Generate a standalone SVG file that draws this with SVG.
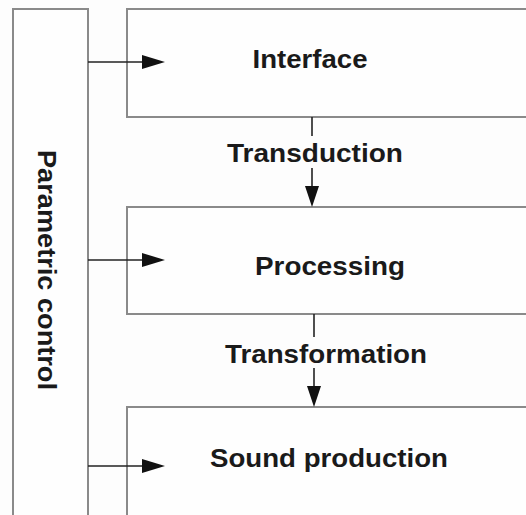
<svg xmlns="http://www.w3.org/2000/svg" width="526" height="515" viewBox="0 0 526 515">
<style>
.box{fill:#fefefe;stroke:#8a8a8a;stroke-width:2}
.lbl{font-family:"Liberation Sans",Arial,sans-serif;font-weight:bold;font-size:26px;fill:#1a1a1a;text-anchor:middle}
.ln{stroke:#222;stroke-width:1.6;fill:none}
.head{fill:#111}
</style>
<rect width="526" height="515" fill="#fdfdfd"/>
<g id="parametric-control">
<rect class="box" x="13" y="9" width="75" height="520"/>
<text class="lbl" transform="translate(38,270) rotate(90)" textLength="240" lengthAdjust="spacingAndGlyphs">Parametric control</text>
</g>
<g id="interface">
<rect class="box" x="127" y="9" width="420" height="108"/>
<text class="lbl" x="310" y="68" textLength="115" lengthAdjust="spacingAndGlyphs">Interface</text>
</g>
<g id="processing">
<rect class="box" x="127" y="207" width="420" height="107"/>
<text class="lbl" x="330" y="275" textLength="150" lengthAdjust="spacingAndGlyphs">Processing</text>
</g>
<g id="sound-production">
<rect class="box" x="127" y="407" width="420" height="130"/>
<text class="lbl" x="329" y="467" textLength="238" lengthAdjust="spacingAndGlyphs">Sound production</text>
</g>
<g id="connectors">
<line class="ln" x1="88" y1="62" x2="144" y2="62"/>
<polygon class="head" points="142,55 165,62 142,69"/>
<line class="ln" x1="88" y1="260" x2="144" y2="260"/>
<polygon class="head" points="142,253 165,260 142,267"/>
<line class="ln" x1="88" y1="466" x2="144" y2="466"/>
<polygon class="head" points="142,459 165,466 142,473"/>
<line class="ln" x1="312" y1="117" x2="312" y2="136"/>
<line class="ln" x1="312" y1="168" x2="312" y2="188"/>
<polygon class="head" points="305,186 319,186 312,207"/>
<text class="lbl" x="315" y="162" textLength="176" lengthAdjust="spacingAndGlyphs">Transduction</text>
<line class="ln" x1="314" y1="314" x2="314" y2="337"/>
<line class="ln" x1="314" y1="368" x2="314" y2="388"/>
<polygon class="head" points="307,386 321,386 314,407"/>
<text class="lbl" x="326" y="363" textLength="202" lengthAdjust="spacingAndGlyphs">Transformation</text>
</g>
</svg>
